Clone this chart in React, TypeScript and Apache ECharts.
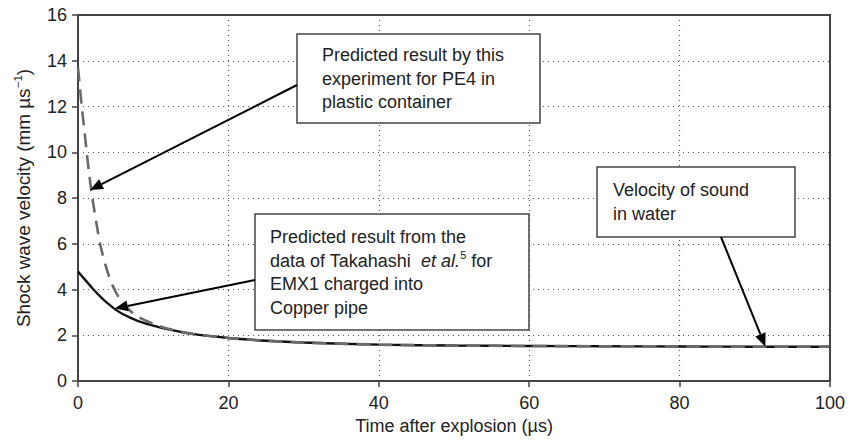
import React, { useEffect, useRef } from 'react';
import * as echarts from 'echarts';

// EMX1 in copper pipe (Takahashi et al.) – solid curve
const emx1Time = [0, 1, 2, 3, 4, 5, 6, 7, 8, 10, 12, 15, 20, 25, 30, 40, 50, 60, 70, 80, 90, 100];
const emx1Velocity = [4.78, 4.4, 4.02, 3.68, 3.38, 3.12, 2.92, 2.76, 2.62, 2.42, 2.26, 2.07, 1.88, 1.76, 1.68, 1.59, 1.55, 1.53, 1.52, 1.51, 1.5, 1.5];

// PE4 in plastic container (this experiment) – dashed curve
const pe4Time = [0, 0.5, 1, 1.5, 2, 2.5, 3, 4, 5, 6, 7, 8, 10, 12, 15, 20, 25, 30, 40, 50, 60, 70, 80, 90, 100];
const pe4Velocity = [13.7, 12.0, 10.5, 9.0, 7.8, 6.8, 5.9, 4.7, 3.9, 3.4, 3.05, 2.8, 2.5, 2.28, 2.07, 1.88, 1.76, 1.68, 1.59, 1.55, 1.53, 1.52, 1.51, 1.5, 1.5];

const xMin = 0, xMax = 100, xStep = 20;
const yMin = 0, yMax = 16, yStep = 2;

const xTitle = 'Time after explosion (µs)';
const yTitle = '{t|Shock wave velocity (mm µs}{s|−1}{t|)}';

// annotation texts and arrow targets (data coordinates)
const note1 = '{n|Predicted result by this}\n{n|experiment for PE4 in}\n{n|plastic container}';
const note1Target = [1.6, 8.35];
const note2 = '{n|Predicted result from the}\n{n|data of Takahashi  }{i|et al.}{s|5}{n| for}\n{n|EMX1 charged into}\n{n|Copper pipe}';
const note2Target = [4.9, 3.17];
const note3 = '{n|Velocity of sound}\n{n|in water}';
const note3Target = [91.4, 1.51];

const FONT = 'Liberation Sans, Arial, Helvetica, sans-serif';
const INK = '#222';

export default function App() {
  const ref = useRef<HTMLDivElement>(null);
  useEffect(() => {
    document.body.style.margin = '0';
    const chart = echarts.init(ref.current!, null, { renderer: 'svg' });
    const grid = { left: 78, top: 15, width: 752, height: 366 };
    const option: any = {
      animation: false,
      backgroundColor: '#fff',
      textStyle: { fontFamily: FONT },
      grid: { ...grid, containLabel: false },
      xAxis: {
        type: 'value', min: xMin, max: xMax, interval: xStep,
        name: xTitle, nameLocation: 'middle', nameGap: 35,
        nameTextStyle: { fontSize: 18, color: INK, fontFamily: FONT },
        axisLine: { show: true, lineStyle: { color: '#444', width: 2 } },
        axisTick: { show: true, length: 6, lineStyle: { color: '#444', width: 1.5 } },
        axisLabel: { fontSize: 18, color: INK, margin: 13, fontFamily: FONT },
        splitLine: { show: true, lineStyle: { color: '#555', type: [1, 4], width: 1.2 } },
      },
      yAxis: {
        type: 'value', min: yMin, max: yMax, interval: yStep,
        axisLine: { show: true, lineStyle: { color: '#444', width: 2 } },
        axisTick: { show: true, length: 6, lineStyle: { color: '#444', width: 1.5 } },
        axisLabel: { fontSize: 18, color: INK, margin: 11, fontFamily: FONT },
        splitLine: { show: true, lineStyle: { color: '#555', type: [1, 4], width: 1.2 } },
      },
      series: [
        {
          type: 'line', name: 'EMX1', showSymbol: false, smooth: 0.3,
          data: emx1Time.map((t, i) => [t, emx1Velocity[i]]),
          lineStyle: { color: '#111', width: 2.4 }, z: 3,
        },
        {
          type: 'line', name: 'PE4', showSymbol: false, smooth: 0.3,
          data: pe4Time.map((t, i) => [t, pe4Velocity[i]]),
          lineStyle: { color: '#6a6a6a', width: 2.6, type: [14, 8] }, z: 4,
        },
      ],
    };
    chart.setOption(option);

    const frame = {
      type: 'polyline', z: 5, silent: true,
      shape: { points: [[grid.left, grid.top + grid.height], [grid.left + grid.width, grid.top + grid.height], [grid.left + grid.width, grid.top], [grid.left, grid.top]] },
      style: { stroke: '#444', lineWidth: 2, fill: null },
    };

    const rich = {
      n: { fontSize: 18, fill: INK, fontFamily: FONT, lineHeight: 23.5 },
      i: { fontSize: 18, fontStyle: 'italic', fill: INK, fontFamily: FONT, lineHeight: 23.5 },
      s: { fontSize: 11, fill: INK, fontFamily: FONT, verticalAlign: 'top', lineHeight: 16 },
      t: { fontSize: 18, fill: INK, fontFamily: FONT, lineHeight: 22 },
    };

    const yName = {
      type: 'text', z: 11, x: 24, y: grid.top + grid.height / 2, rotation: Math.PI / 2, scaleX: 1.05,
      style: { text: yTitle, font: '18px ' + FONT, fill: INK, align: 'center', verticalAlign: 'middle', rich },
    };

    const arrow = (from: number[], target: number[]) => {
      const tip = chart.convertToPixel({ gridIndex: 0 }, target) as number[];
      const dx = tip[0] - from[0], dy = tip[1] - from[1];
      const len = Math.sqrt(dx * dx + dy * dy);
      const ux = dx / len, uy = dy / len;
      const hl = 13, hw = 5.5;
      const bx = tip[0] - ux * hl, by = tip[1] - uy * hl;
      return [
        { type: 'line', z: 20, shape: { x1: from[0], y1: from[1], x2: bx, y2: by }, style: { stroke: '#000', lineWidth: 2 } },
        { type: 'polygon', z: 20, shape: { points: [tip, [bx - uy * hw, by + ux * hw], [bx + uy * hw, by - ux * hw]] }, style: { fill: '#000' } },
      ];
    };

    const box = (x: number, y: number, w: number, h: number, text: string, tx: number, ty: number) => [
      { type: 'rect', z: 10, shape: { x, y, width: w, height: h }, style: { fill: '#fff', stroke: '#444', lineWidth: 1.5 } },
      { type: 'text', z: 11, x: tx, y: ty, style: { text, font: '18px ' + FONT, fill: INK, rich } },
    ];

    chart.setOption({
      graphic: [
        frame,
        yName,
        ...box(297, 34, 243, 89, note1, 322, 43.5),
        ...box(255, 214, 274, 116, note2, 270, 225.5),
        ...box(597, 167, 198, 70, note3, 613, 178.5),
        ...arrow([297, 85], note1Target),
        ...arrow([255, 280], note2Target),
        ...arrow([721, 237], note3Target),
      ],
    });
    return () => chart.dispose();
  }, []);
  return <div ref={ref} style={{ position: 'fixed', left: 0, top: 0, width: 861, height: 444 }} />;
}
